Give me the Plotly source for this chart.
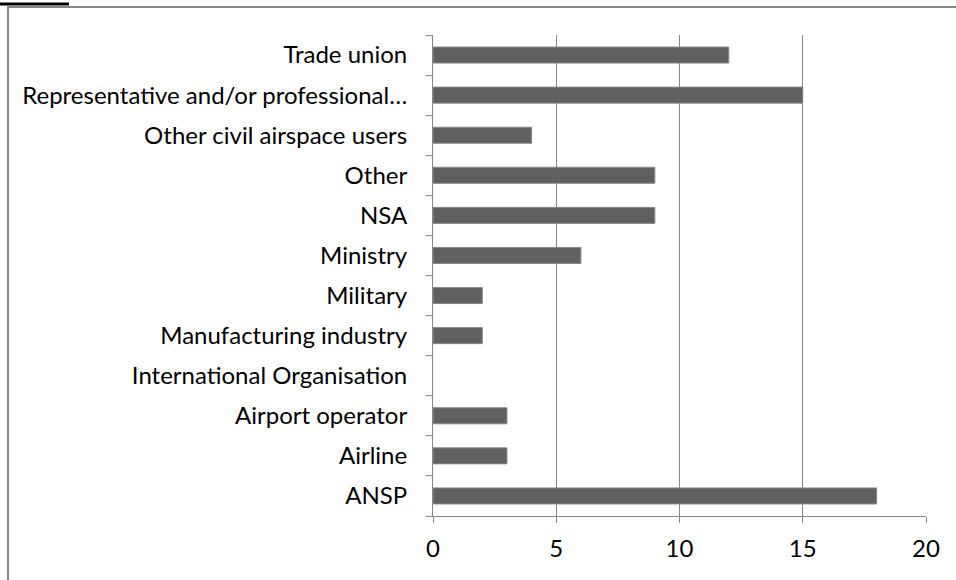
import plotly.graph_objects as go

# NOTE: the reference has a title cut off at its top edge (italic serif text,
# only the bottom few pixels of its descenders visible). Its wording cannot be
# read from the picture, so it is not reproduced here; only the black underline
# fragment at the top-left and the frame lines are drawn.

categories = ["ANSP", "Airline", "Airport operator", "International Organisation",
              "Manufacturing industry", "Military", "Ministry", "NSA", "Other",
              "Other civil airspace users", "Representative and/or professional…",
              "Trade union"]
values = [18, 3, 3, 0, 2, 2, 6, 9, 9, 4, 15, 12]
x_ticks = [0, 5, 10, 15, 20]

W, H = 956, 580
L, R, T, B = 433, 30, 35, 64
pw, ph = W - L - R, H - T - B

def px_x(px):
    return (px - L) / pw

def px_y(py):
    return (H - B - py) / ph

grid = "#868686"
font = dict(family="Lato, Calibri, Carlito, sans-serif", size=24, color="#000000")

fig = go.Figure(go.Bar(
    x=values, y=categories, orientation="h",
    marker=dict(color="#606060",
                line=dict(color="#8a8a8a", width=[1 if v > 0 else 0 for v in values])),
))

fig.update_layout(
    width=W, height=H,
    margin=dict(l=L, r=R, t=T, b=B, pad=0),
    paper_bgcolor="white", plot_bgcolor="white",
    bargap=0.6, showlegend=False, font=font,
    xaxis=dict(range=[0, 20], tickvals=x_ticks, showgrid=True, gridcolor=grid,
               gridwidth=1, zeroline=False, showline=True, linecolor=grid,
               linewidth=1, ticks="outside", ticklen=6, tickcolor=grid,
               ticklabelstandoff=5, tickfont=font),
    yaxis=dict(type="category", categoryorder="array", categoryarray=categories,
               showgrid=False, zeroline=False, showline=True, linecolor=grid,
               linewidth=1, ticks="outside", ticklen=6, tickcolor=grid,
               tickson="boundaries", ticklabelstandoff=20, tickfont=font),
    shapes=[
        dict(type="line", xref="paper", yref="paper", x0=px_x(8), x1=px_x(960),
             y0=px_y(7), y1=px_y(7), line=dict(color=grid, width=2)),
        dict(type="line", xref="paper", yref="paper", x0=px_x(8), x1=px_x(8),
             y0=px_y(6), y1=px_y(585), line=dict(color=grid, width=2)),
        dict(type="line", xref="paper", yref="paper", x0=px_x(-2), x1=px_x(69),
             y0=px_y(4), y1=px_y(4), line=dict(color="black", width=3)),
    ],
)

fig.write_html("out.html", config={"displayModeBar": False},
               post_script="document.body.style.margin='0';")
